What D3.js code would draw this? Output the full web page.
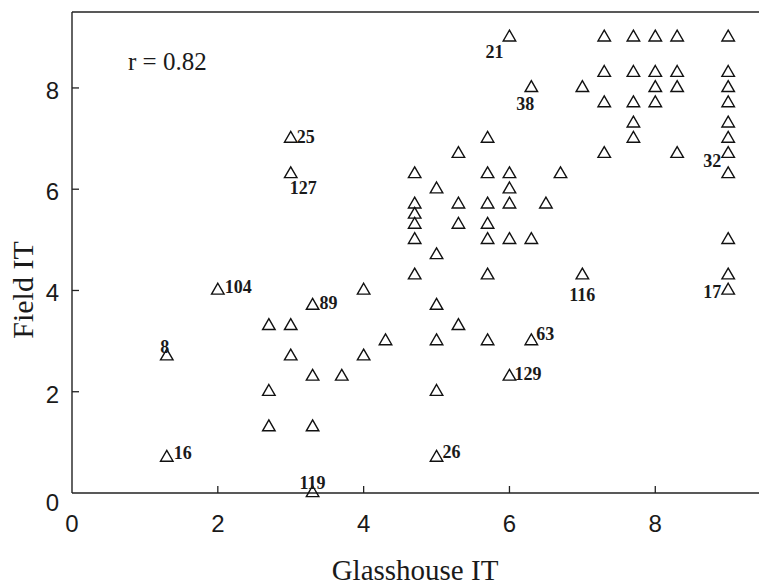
<!doctype html>
<html>
  <head>
    <meta charset="utf-8">
    <title>Field IT vs Glasshouse IT</title>
    <script src="https://cdn.jsdelivr.net/npm/d3@7"></script>
    <style>
      body { margin: 0; background: #fff; }
      svg { display: block; }
    </style>
  </head>
  <body>
    <script>
      // values
      var glassIT = [
        1.3, 1.3, 2.0, 2.7, 2.7, 2.7, 3.0, 3.0, 3.0, 3.0,
        3.3, 3.3, 3.3, 3.3, 3.7, 4.0, 4.0, 4.3,
        4.7, 4.7, 4.7, 4.7, 4.7, 4.7,
        5.0, 5.0, 5.0, 5.0, 5.0, 5.0,
        5.3, 5.3, 5.3, 5.3,
        5.7, 5.7, 5.7, 5.7, 5.7, 5.7, 5.7,
        6.0, 6.0, 6.0, 6.0, 6.0, 6.0,
        6.3, 6.3, 6.3, 6.5, 6.7, 7.0, 7.0,
        7.3, 7.3, 7.3, 7.3,
        7.7, 7.7, 7.7, 7.7, 7.7,
        8.0, 8.0, 8.0, 8.0,
        8.3, 8.3, 8.3, 8.3,
        9.0, 9.0, 9.0, 9.0, 9.0, 9.0, 9.0, 9.0, 9.0, 9.0, 9.0
      ];
      var fieldIT = [
        2.7, 0.7, 4.0, 3.3, 2.0, 1.3, 7.0, 6.3, 3.3, 2.7,
        3.7, 2.3, 1.3, 0.0, 2.3, 4.0, 2.7, 3.0,
        6.3, 5.7, 5.5, 5.3, 5.0, 4.3,
        6.0, 4.7, 3.7, 3.0, 2.0, 0.7,
        6.7, 5.7, 5.3, 3.3,
        7.0, 6.3, 5.7, 5.3, 5.0, 4.3, 3.0,
        9.0, 6.3, 6.0, 5.7, 5.0, 2.3,
        8.0, 5.0, 3.0, 5.7, 6.3, 8.0, 4.3,
        9.0, 8.3, 7.7, 6.7,
        9.0, 8.3, 7.7, 7.3, 7.0,
        9.0, 8.3, 8.0, 7.7,
        9.0, 8.3, 8.0, 6.7,
        9.0, 8.3, 8.0, 7.7, 7.3, 7.0, 6.7, 6.3, 5.0, 4.3, 4.0
      ];
      var pointIds = [
        "8", "16", "104", "", "", "", "25", "127", "", "",
        "89", "", "", "119", "", "", "", "",
        "", "", "", "", "", "",
        "", "", "", "", "", "26",
        "", "", "", "",
        "", "", "", "", "", "", "",
        "21", "", "", "", "", "129",
        "38", "", "63", "", "", "", "116",
        "", "", "", "",
        "", "", "", "", "",
        "", "", "", "",
        "", "", "", "",
        "", "", "", "", "", "", "32", "", "", "", "17"
      ];
      var xTicks = [0, 2, 4, 6, 8];
      var yTicks = [0, 2, 4, 6, 8];
      var rText = "r = 0.82";

      var width = 759, height = 585;

      var x = d3.scaleLinear().domain([0, 9.45]).range([72, 761]);
      var y = d3.scaleLinear().domain([0, 9.5]).range([493, 12]);

      var svg = d3.select('body').append('svg')
        .attr('width', width)
        .attr('height', height);

      // frame: left, bottom, top
      var frame = svg.append('g')
        .attr('stroke', '#222')
        .attr('stroke-width', 1.4)
        .attr('fill', 'none');
      frame.append('line').attr('x1', x(0)).attr('x2', x(0)).attr('y1', y(9.5)).attr('y2', y(0));
      frame.append('line').attr('x1', x(0)).attr('x2', width).attr('y1', y(0)).attr('y2', y(0));
      frame.append('line').attr('x1', x(0)).attr('x2', width).attr('y1', y(9.5)).attr('y2', y(9.5));

      // ticks point inward
      svg.selectAll('.xtick')
        .data(xTicks.filter(function (d) { return d > 0; }))
        .enter().append('line')
        .attr('x1', function (d) { return x(d); })
        .attr('x2', function (d) { return x(d); })
        .attr('y1', y(0))
        .attr('y2', y(0) - 7)
        .attr('stroke', '#222')
        .attr('stroke-width', 1.3);

      svg.selectAll('.ytick')
        .data(yTicks.filter(function (d) { return d > 0; }))
        .enter().append('line')
        .attr('x1', x(0))
        .attr('x2', x(0) + 7)
        .attr('y1', function (d) { return y(d); })
        .attr('y2', function (d) { return y(d); })
        .attr('stroke', '#222')
        .attr('stroke-width', 1.3);

      var tickFont = '"Liberation Sans", Arial, sans-serif';

      svg.selectAll('.xlab')
        .data(xTicks)
        .enter().append('text')
        .attr('x', function (d) { return x(d); })
        .attr('y', 532)
        .attr('text-anchor', 'middle')
        .attr('font-family', tickFont)
        .attr('font-size', 24)
        .attr('fill', '#1a1a1a')
        .text(function (d) { return d; });

      svg.selectAll('.ylab')
        .data(yTicks)
        .enter().append('text')
        .attr('x', 59)
        .attr('y', function (d) { return y(d) + (d === 0 ? 18 : 11); })
        .attr('text-anchor', 'end')
        .attr('font-family', tickFont)
        .attr('font-size', 24)
        .attr('fill', '#1a1a1a')
        .text(function (d) { return d; });

      var serif = '"Liberation Serif", "Times New Roman", serif';

      svg.append('text')
        .attr('x', 415)
        .attr('y', 580)
        .attr('text-anchor', 'middle')
        .attr('font-family', serif)
        .attr('font-size', 29)
        .attr('fill', '#1a1a1a')
        .text('Glasshouse IT');

      svg.append('text')
        .attr('transform', 'translate(33,290) rotate(-90)')
        .attr('text-anchor', 'middle')
        .attr('font-family', serif)
        .attr('font-size', 30)
        .attr('fill', '#1a1a1a')
        .text('Field IT');

      svg.append('text')
        .attr('x', 128)
        .attr('y', 70)
        .attr('font-family', serif)
        .attr('font-size', 25)
        .attr('fill', '#1a1a1a')
        .text(rText);

      // points
      var points = glassIT.map(function (g, i) {
        return { gx: g, fy: fieldIT[i], id: pointIds[i] };
      });

      var tri = d3.symbol().type(d3.symbolTriangle).size(68);

      svg.append('g').selectAll('path')
        .data(points)
        .enter().append('path')
        .attr('d', tri)
        .attr('transform', function (d) { return 'translate(' + x(d.gx) + ',' + y(d.fy) + ')'; })
        .attr('fill', 'none')
        .attr('stroke', '#111')
        .attr('stroke-width', 1.4);

      // where each point number sits next to its marker
      var labelPlace = {
        '21': ['end', -6, 21], '38': ['middle', -6, 22], '25': ['start', 6, 4],
        '127': ['start', -1, 20], '104': ['start', 7, 3], '8': ['middle', -2, -3],
        '16': ['start', 7, 1], '89': ['start', 7, 3], '63': ['start', 5, -1],
        '129': ['start', 5, 3], '26': ['start', 6, 0], '119': ['middle', 0, -4],
        '116': ['middle', 0, 26], '17': ['end', -7, 8], '32': ['end', -7, 13]
      };

      svg.append('g').selectAll('text')
        .data(points.filter(function (d) { return d.id !== ''; }))
        .enter().append('text')
        .attr('x', function (d) { return x(d.gx) + labelPlace[d.id][1]; })
        .attr('y', function (d) { return y(d.fy) + labelPlace[d.id][2]; })
        .attr('text-anchor', function (d) { return labelPlace[d.id][0]; })
        .attr('font-family', serif)
        .attr('font-weight', 'bold')
        .attr('font-size', 18)
        .attr('fill', '#1a1a1a')
        .text(function (d) { return d.id; });
    </script>
  </body>
</html>
